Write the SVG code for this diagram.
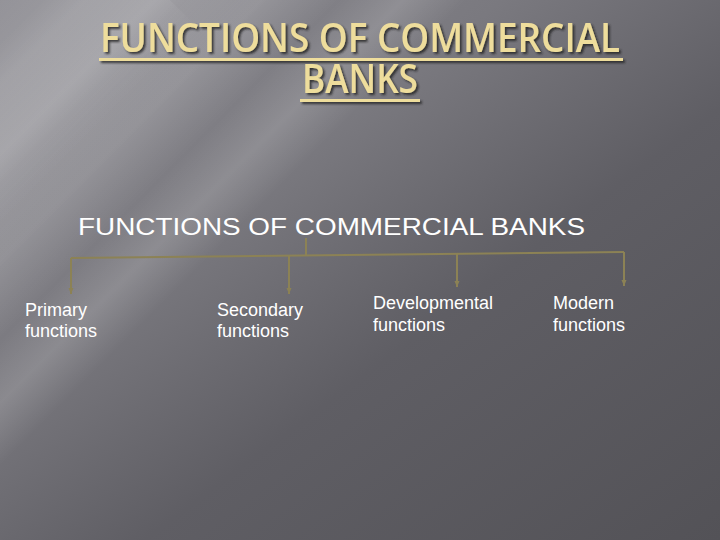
<svg xmlns="http://www.w3.org/2000/svg" width="720" height="540" viewBox="0 0 720 540">
<defs>
<linearGradient id="bg" x1="0" y1="0" x2="1" y2="1">
<stop offset="0" stop-color="#8e8d93"/>
<stop offset="0.35" stop-color="#7a797f"/>
<stop offset="0.6" stop-color="#5f5e64"/>
<stop offset="1" stop-color="#535257"/>
</linearGradient>
<linearGradient id="streak" x1="0" y1="0" x2="1" y2="0">
<stop offset="0" stop-color="#ffffff" stop-opacity="0"/>
<stop offset="0.5" stop-color="#ffffff" stop-opacity="0.22"/>
<stop offset="1" stop-color="#ffffff" stop-opacity="0"/>
</linearGradient>
<linearGradient id="streak2" x1="0" y1="0" x2="1" y2="0">
<stop offset="0" stop-color="#ffffff" stop-opacity="0"/>
<stop offset="0.5" stop-color="#ffffff" stop-opacity="0.14"/>
<stop offset="1" stop-color="#ffffff" stop-opacity="0"/>
</linearGradient>
<filter id="sh" x="-5%" y="-20%" width="110%" height="140%">
<feDropShadow dx="2" dy="2" stdDeviation="0.8" flood-color="#222224" flood-opacity="0.8"/>
</filter>
<marker id="arr" markerWidth="7" markerHeight="6" refX="6" refY="3" orient="auto" markerUnits="userSpaceOnUse">
<path d="M0,0.5 L6,3 L0,5.5 Z" fill="#8c8255"/>
</marker>
<style>
.title{font-family:"Open Sans","Lato",sans-serif;font-weight:600;font-size:40px;fill:#eedd9c}
.sub{font-family:"Liberation Sans",Arial,sans-serif;font-size:24px;fill:#ffffff}
.lbl{font-family:"Liberation Sans",Arial,sans-serif;font-size:18px;fill:#ffffff}
.conn{stroke:#8c8255;stroke-width:2;fill:none}
</style>
</defs>
<rect width="720" height="540" fill="url(#bg)"/>
<g>
<rect x="-200" y="-60" width="160" height="900" fill="url(#streak)" transform="rotate(45 0 0) translate(230 -150)"/>
<rect x="-200" y="-60" width="110" height="900" fill="url(#streak2)" transform="rotate(45 0 0) translate(330 -220)"/>
<rect x="-200" y="-60" width="200" height="900" fill="url(#streak2)" transform="rotate(45 0 0) translate(160 -60)"/>
<rect x="-200" y="-60" width="90" height="900" fill="url(#streak2)" transform="rotate(45 0 0) translate(440 -300)"/>
</g>
<g id="title" filter="url(#sh)">
<text class="title" x="360" y="52" text-anchor="middle" textLength="520" lengthAdjust="spacingAndGlyphs">FUNCTIONS OF COMMERCIAL</text>
<rect x="99" y="58" width="524" height="3" fill="#eedd9c"/>
<text class="title" x="360" y="93" text-anchor="middle" textLength="116" lengthAdjust="spacingAndGlyphs">BANKS</text>
<rect x="300" y="99" width="120" height="3" fill="#eedd9c"/>
</g>
<g id="root">
<text class="sub" x="78" y="235" textLength="507" lengthAdjust="spacingAndGlyphs">FUNCTIONS OF COMMERCIAL BANKS</text>
</g>
<g id="connectors">
<path class="conn" d="M306,238 L306,255"/>
<path class="conn" d="M71,258 L624,252"/>
<path class="conn" d="M71,258 L71,294" marker-end="url(#arr)"/>
<path class="conn" d="M289,256 L289,294" marker-end="url(#arr)"/>
<path class="conn" d="M457,254 L457,287" marker-end="url(#arr)"/>
<path class="conn" d="M624,252 L624,286" marker-end="url(#arr)"/>
</g>
<g id="primary">
<text class="lbl" x="25" y="316">Primary</text>
<text class="lbl" x="25" y="337">functions</text>
</g>
<g id="secondary">
<text class="lbl" x="217" y="316">Secondary</text>
<text class="lbl" x="217" y="337">functions</text>
</g>
<g id="developmental">
<text class="lbl" x="373" y="309">Developmental</text>
<text class="lbl" x="373" y="331">functions</text>
</g>
<g id="modern">
<text class="lbl" x="553" y="309">Modern</text>
<text class="lbl" x="553" y="331">functions</text>
</g>
</svg>
